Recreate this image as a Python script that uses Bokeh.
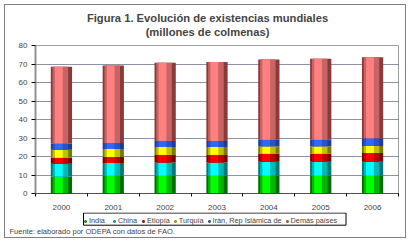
from bokeh.plotting import figure
from bokeh.layouts import column
from bokeh.models import ColumnDataSource, FixedTicker, Legend, LegendItem, Label, BoxAnnotation
from bokeh.transform import dodge
from bokeh.embed import file_html
from bokeh.resources import INLINE

years = ["2000", "2001", "2002", "2003", "2004", "2005", "2006"]
india = [9.2, 9.6, 9.6, 9.6, 9.6, 9.6, 9.6]
china = [6.9, 6.9, 7.2, 7.2, 7.6, 7.6, 7.6]
etiopia = [3.2, 3.2, 4.0, 4.0, 4.3, 4.3, 4.7]
turquia = [4.4, 4.4, 4.4, 4.4, 4.0, 4.0, 3.8]
iran = [3.3, 3.2, 3.2, 3.2, 3.6, 3.6, 4.2]
demas = [41.5, 41.9, 42.3, 42.7, 43.4, 43.7, 43.7]
series_names = ["India", "China", "Etiopía", "Turquía", "Irán, Rep Islámica de", "Demás países"]
series_values = [india, china, etiopia, turquia, iran, demas]
y_ticks = [0, 10, 20, 30, 40, 50, 60, 70, 80]
title_lines = ["Figura 1. Evolución de existencias mundiales", "(millones de colmenas)"]
source_note = "Fuente: elaborado por ODEPA con datos de FAO."

# dark, mid, bright shades for a cylinder look
shades = [
    ("#006e00", "#00b800", "#00ff00"),
    ("#007878", "#00baba", "#00ffff"),
    ("#7a0000", "#c00000", "#ff0000"),
    ("#7a7a00", "#c0c000", "#ffff00"),
    ("#1f3a99", "#2a50cc", "#3366ff"),
    ("#8b3a3a", "#c86464", "#ff8080"),
]

FONT = "Liberation Sans"
x_pos = list(range(1, len(years) + 1))

# ---- title strip
p0 = figure(width=400, height=35, x_range=(0, 400), y_range=(0, 35),
            output_backend="svg", toolbar_location=None, title=None,
            x_axis_type=None, y_axis_type=None,
            min_border_left=0, min_border_right=0, min_border_top=0, min_border_bottom=0,
            background_fill_color="white", border_fill_color="white")
p0.frame_align = False
p0.grid.grid_line_color = None
p0.outline_line_color = None
for txt, yy in zip(title_lines, [23, 9]):
    p0.add_layout(Label(x=202, y=yy, text=txt, text_align="center", text_baseline="middle",
                        text_font=FONT, text_font_size="11.2px", text_font_style="bold"))

# ---- main chart
p = figure(width=400, height=172, x_range=(0.5, len(years) + 0.5), y_range=(0, 80),
           output_backend="svg", toolbar_location=None, title=None,
           min_border_left=30, min_border_right=7, min_border_top=5, min_border_bottom=18,
           background_fill_color="white", border_fill_color="white")
p.frame_align = False

bottom = [0.0] * len(years)
for name, vals, (dark, mid, bright) in zip(series_names, series_values, shades):
    top = [b + v for b, v in zip(bottom, vals)]
    src = ColumnDataSource(dict(x=x_pos, bottom=bottom, top=top))
    p.vbar(x="x", bottom="bottom", top="top", width=0.41, source=src,
           fill_color=dark, line_color=None)
    p.vbar(x=dodge("x", -0.02, range=p.x_range), bottom="bottom", top="top", width=0.30,
           source=src, fill_color=mid, line_color=None)
    p.vbar(x=dodge("x", -0.05, range=p.x_range), bottom="bottom", top="top", width=0.15,
           source=src, fill_color=bright, line_color=None)
    bottom = top

p.outline_line_color = "#a0a0a0"
p.outline_line_width = 1

p.xgrid.grid_line_color = None
p.ygrid.grid_line_color = "#202050"
p.ygrid.grid_line_dash = "1 1"
p.ygrid.grid_line_width = 1

p.yaxis.ticker = FixedTicker(ticks=y_ticks)
p.yaxis.axis_line_color = "#909090"
p.yaxis.axis_line_width = 2
p.yaxis.major_tick_line_color = "#000000"
p.yaxis.major_tick_out = 4
p.yaxis.major_tick_in = 0
p.yaxis.minor_tick_line_color = None
p.yaxis.major_label_text_font = FONT
p.yaxis.major_label_text_font_size = "8px"
p.yaxis.major_label_standoff = 4

p.xaxis.ticker = FixedTicker(ticks=x_pos, minor_ticks=[x + 0.5 for x in range(0, len(years) + 1)])
p.xaxis.major_label_overrides = {x: y for x, y in zip(x_pos, years)}
p.xaxis.major_tick_line_color = None
p.xaxis.major_tick_out = 0
p.xaxis.major_tick_in = 0
p.xaxis.minor_tick_line_color = "#000000"
p.xaxis.minor_tick_out = 3
p.xaxis.minor_tick_in = 0
p.xaxis.axis_line_color = "#000000"
p.xaxis.axis_line_dash = "1 1"
p.xaxis.major_label_text_font = FONT
p.xaxis.major_label_text_font_size = "8px"
p.xaxis.major_label_standoff = 8

# ---- lower strip: legend and source note
p2 = figure(width=400, height=25, x_range=(0, 400), y_range=(0, 25),
            output_backend="svg", toolbar_location=None, title=None,
            x_axis_type=None, y_axis_type=None,
            min_border_left=0, min_border_right=0, min_border_top=0, min_border_bottom=0,
            background_fill_color="white", border_fill_color="white")
p2.frame_align = False
p2.grid.grid_line_color = None
p2.outline_line_color = None
items = []
nan = float("nan")
for name, (dark, mid, bright) in zip(series_names, shades):
    r = p2.scatter(x=[nan], y=[nan], marker="square", size=4, fill_color=bright, line_color=dark)
    items.append(LegendItem(label=name, renderers=[r]))
legend = Legend(items=items, orientation="horizontal", location=(78, 12),
                label_text_font=FONT, label_text_font_size="7.3px",
                glyph_width=4, glyph_height=4, label_standoff=2, spacing=3,
                padding=2, margin=0, border_line_color=None,
                label_height=7, background_fill_alpha=0)
p2.add_layout(legend)
# frame drawn around the legend entries
p2.add_layout(BoxAnnotation(left=78, right=340.5, bottom=12.3, top=24.5,
                            fill_alpha=0, line_color="#000000", line_width=1, line_alpha=1))
p2.add_layout(Label(x=4, y=6.5, text=source_note, text_baseline="middle",
                    text_font=FONT, text_font_size="7.5px"))

layout = column(p0, p, p2, spacing=0)
layout.styles = {"border": "1px solid #808080", "margin-left": "4px", "margin-top": "4px"}

open("out.html", "w").write(file_html(layout, INLINE))
